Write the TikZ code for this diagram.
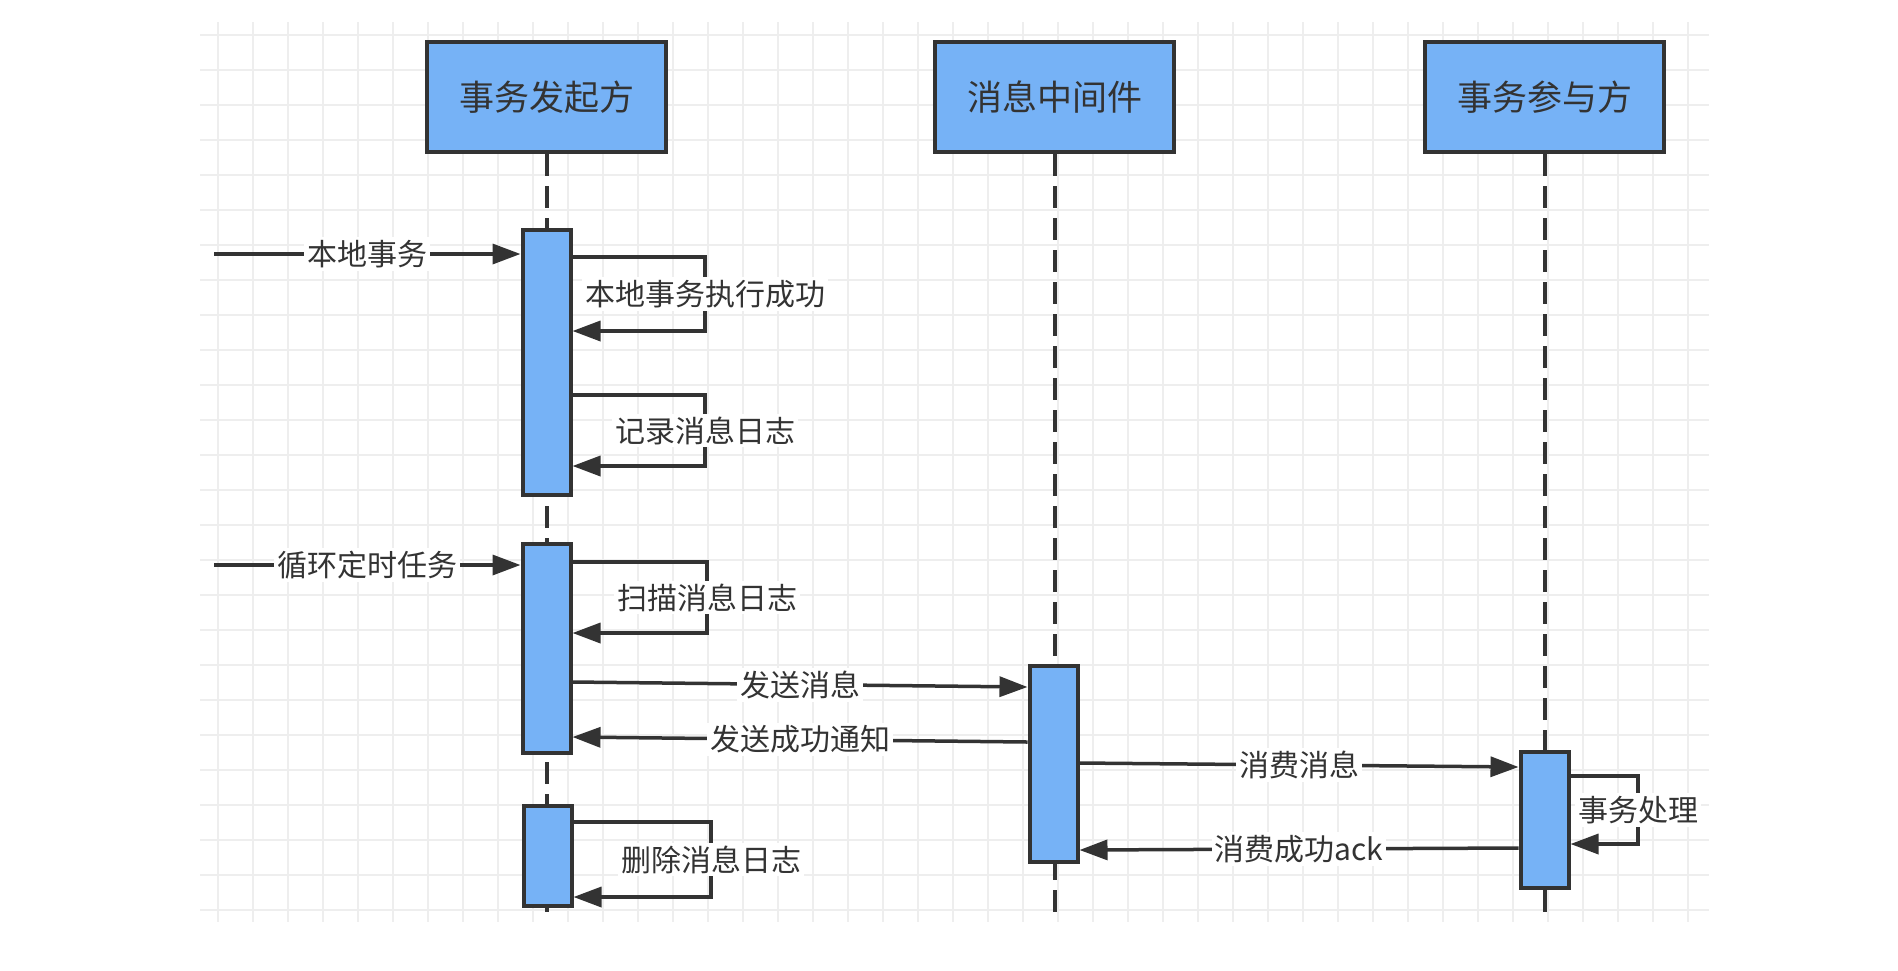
\documentclass[tikz,border=0pt]{standalone}
\usepackage{fontspec}
\newfontfamily\cjk{Noto Sans CJK SC}
\usetikzlibrary{arrows.meta}
\definecolor{boxblue}{HTML}{76B2F6}
\definecolor{ink}{HTML}{333333}
\definecolor{gridc}{HTML}{EEEEEE}
\begin{document}
\begin{tikzpicture}[x=0.5pt,y=-0.5pt,
 head/.style={draw=ink,fill=boxblue,line width=2pt,minimum width=119.5pt,minimum height=55pt,inner sep=0pt,font=\cjk\fontsize{17.5pt}{20pt}\selectfont,text=ink},
 act/.style={draw=ink,fill=boxblue,line width=2pt,minimum width=24pt,inner sep=0pt},
 life/.style={draw=ink,line width=2pt,dash pattern=on 11pt off 5pt},
 msg/.style={draw=ink,line width=1.75pt,-{Triangle[length=14pt,width=10pt]}},
 lbl/.style={fill=white,inner sep=1.5pt,text=ink,font=\cjk\fontsize{15pt}{18pt}\selectfont},
 gridline/.style={draw=gridc,line width=0.8pt}
]
\useasboundingbox (0,0) rectangle (1898,970);
\fill[white] (0,0) rectangle (1898,970);
% grid
\foreach \i in {0,...,42} \draw[gridline] ({218+35*\i},22) -- ({218+35*\i},922);
\foreach \j in {1,...,26} \draw[gridline] (200,{35*\j}) -- (1709,{35*\j});
% heads
\node[head] (h1) at (546.5,97) {事务发起方};
\node[head] (h2) at (1054.5,97) {消息中间件};
\node[head] (h3) at (1544.5,97) {事务参与方};
\coordinate (e1) at (546.5,922);
\coordinate (e2) at (1054.5,922);
\coordinate (e3) at (1544.5,922);
\draw[life] (h1.south) -- (e1);
\draw[life] (h2.south) -- (e2);
\draw[life] (h3.south) -- (e3);
% activations
\node[act,minimum height=132.5pt] (a1) at (546.5,362.5) {};
\node[act,minimum height=104.5pt] (a2) at (546.5,648.5) {};
\node[act,minimum height=50pt] (a3) at (547.5,856) {};
\node[act,minimum height=98pt] (m1) at (1053.5,764) {};
\node[act,minimum height=68pt] (p1) at (1544.5,820) {};
% incoming
\coordinate (s1) at (214,254);
\coordinate (s2) at (214,565);
\draw[msg] (s1) -- node[lbl]{本地事务} (a1.west |- 0,254);
\draw[msg] (s2) -- node[lbl]{循环定时任务} (a2.west |- 0,565);
% self loops
\draw[msg] (a1.east |- 0,257) -- (705,257) -- node[lbl]{本地事务执行成功} (705,331) -- (a1.east |- 0,331);
\draw[msg] (a1.east |- 0,395) -- (705,395) -- node[lbl]{记录消息日志} (705,466) -- (a1.east |- 0,466);
\draw[msg] (a2.east |- 0,562) -- (707,562) -- node[lbl]{扫描消息日志} (707,633) -- (a2.east |- 0,633);
\draw[msg] (a3.east |- 0,822) -- (711,822) -- node[lbl]{删除消息日志} (711,897) -- (a3.east |- 0,897);
\draw[msg] (p1.east |- 0,776) -- (1638,776) -- node[lbl]{事务处理} (1638,844) -- (p1.east |- 0,844);
% messages
\draw[msg] (a2.east |- 0,682) -- node[lbl]{发送消息} (m1.west |- 0,687);
\draw[msg] (m1.west |- 0,742) -- node[lbl]{发送成功通知} (a2.east |- 0,737);
\draw[msg] (m1.east |- 0,763) -- node[lbl]{消费消息} (p1.west |- 0,767);
\draw[msg] (p1.west |- 0,848) -- node[lbl]{消费成功ack} (m1.east |- 0,850);
\end{tikzpicture}
\end{document}
